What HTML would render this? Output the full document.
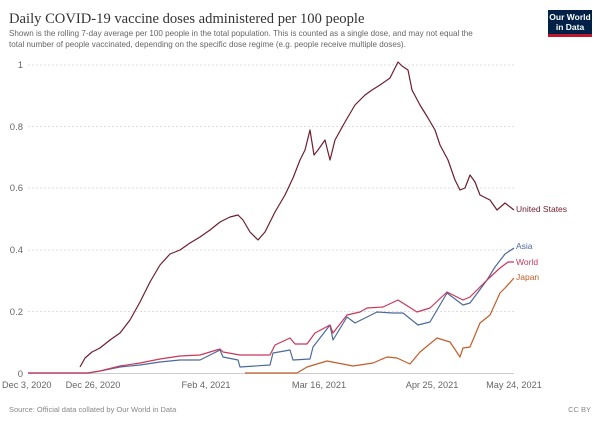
<!DOCTYPE html><html><head><style>
body{margin:0;background:#fff;width:600px;height:424px;overflow:hidden;font-family:"Liberation Sans",sans-serif}
</style></head><body>
<svg width="600" height="424" xmlns="http://www.w3.org/2000/svg" font-family="Liberation Sans, sans-serif">
<text x="9" y="23" font-family="Liberation Serif, serif" font-size="14.6" fill="#333">Daily COVID-19 vaccine doses administered per 100 people</text>
<text x="9" y="36" font-size="8.1" fill="#666">Shown is the rolling 7-day average per 100 people in the total population. This is counted as a single dose, and may not equal the</text>
<text x="9" y="47" font-size="8.1" fill="#666">total number of people vaccinated, depending on the specific dose regime (e.g. people receive multiple doses).</text>
<rect x="548" y="10" width="44" height="27" fill="#002147"/>
<rect x="548" y="34" width="44" height="3" fill="#c0152f"/>
<text x="570" y="20" font-size="8.5" font-weight="bold" fill="#fff" text-anchor="middle">Our World</text>
<text x="570" y="30" font-size="8.5" font-weight="bold" fill="#fff" text-anchor="middle">in Data</text>
<g stroke="#ddd" stroke-dasharray="2,2" stroke-width="1">
<line x1="28" x2="514" y1="65" y2="65"/><line x1="28" x2="514" y1="126.5" y2="126.5"/><line x1="28" x2="514" y1="188" y2="188"/><line x1="28" x2="514" y1="250" y2="250"/><line x1="28" x2="514" y1="311.5" y2="311.5"/>
</g>
<line x1="28" x2="514" y1="373.5" y2="373.5" stroke="#ccc"/>
<g font-size="9.5" fill="#666" text-anchor="end">
<text x="23" y="68">1</text><text x="23" y="130">0.8</text><text x="23" y="191">0.6</text><text x="23" y="253">0.4</text><text x="23" y="315">0.2</text><text x="23" y="377">0</text>
</g>
<g font-size="9.2" fill="#666" text-anchor="middle">
<text x="2" y="388" text-anchor="start">Dec 3, 2020</text><text x="93" y="388">Dec 26, 2020</text><text x="206" y="388">Feb 4, 2021</text><text x="319" y="388">Mar 16, 2021</text><text x="432" y="388">Apr 25, 2021</text><text x="514" y="388">May 24, 2021</text>
</g>
<text x="9" y="412" font-size="7.5" fill="#888">Source: Official data collated by Our World in Data</text>
<text x="591" y="412" font-size="7.5" fill="#888" text-anchor="end">CC BY</text>
<g fill="none" stroke-width="1.2" stroke-linejoin="round">
<polyline stroke="#c15e2a" points="245,373 297,373 307,367 327,361 353,366 373,363 387,357 397,358 410,364 420,352 437,338 450,342 460,357 463,348 470,347 480,323 490,315 500,293 505,288 514,278"/>
<polyline stroke="#4c6a9c" points="28,373 88,373 100,371 120,367 140,365 160,362 180,360 200,360 220,350 223,357 238,360 240,367 270,365 273,353 290,350 293,360 310,359 313,347 330,325 333,340 347,317 355,323 367,317 377,312 393,313 403,313 418,325 430,322 447,293 463,305 470,303 487,280 495,267 505,254 514,248"/>
<polyline stroke="#c8385a" points="28,373 88,373 100,371 120,366 140,363 160,359 180,356 200,355 220,349 223,352 240,355 270,355 275,345 290,338 295,344 307,344 315,333 330,325 333,333 347,315 360,312 367,308 383,307 398,300 417,312 430,308 447,292 463,300 470,297 487,280 500,268 508,262 514,262"/>
<polyline stroke="#6d1f2e" points="80,367 85,358 92,352 100,348 110,340 120,333 130,320 140,302 150,282 160,265 170,254 180,250 190,243 200,237 210,230 220,222 230,217 238,215 243,220 250,232 258,240 265,232 275,212 285,195 293,178 300,160 305,150 310,130 314,155 318,150 325,140 330,160 335,140 345,122 355,105 365,95 372,90 380,85 390,78 398,62 402,66 408,70 412,90 420,105 428,118 435,130 440,145 448,160 455,180 460,190 465,188 470,175 475,182 480,195 490,200 497,210 505,203 514,210"/>
</g>
<g font-size="8.5">
<text x="516" y="212" fill="#6d1f2e">United States</text>
<text x="516" y="249" fill="#4c6a9c">Asia</text>
<text x="516" y="265" fill="#c8385a">World</text>
<text x="516" y="280" fill="#c15e2a">Japan</text>
</g>
</svg>
</body></html>
